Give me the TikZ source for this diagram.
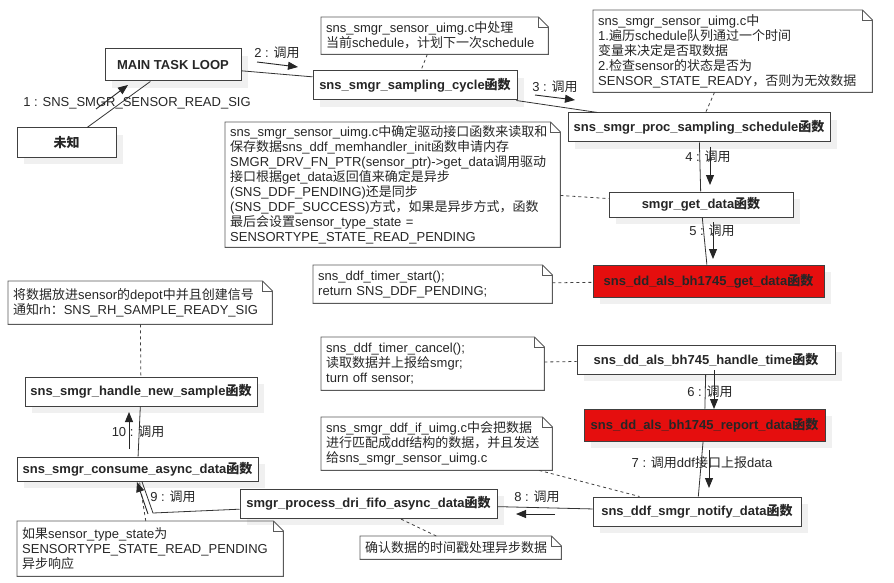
\documentclass[tikz,border=0pt]{standalone}
\usepackage{fontspec}
\setmainfont{Liberation Sans}
\newfontfamily\cjk{Noto Sans CJK SC}
\newXeTeXintercharclass\CJKclass
\count255="4E00
\loop
  \XeTeXcharclass\count255=\CJKclass
  \ifnum\count255<"9FFF \advance\count255 by 1 \repeat
\XeTeXcharclass"FF0C=\CJKclass
\XeTeXcharclass"FF1A=\CJKclass
\XeTeXcharclass"3001=\CJKclass
\XeTeXcharclass"3002=\CJKclass
\XeTeXinterchartoks 0 \CJKclass = {\begingroup\cjk}
\XeTeXinterchartoks 4095 \CJKclass = {\begingroup\cjk}
\XeTeXinterchartoks \CJKclass 0 = {\endgroup}
\XeTeXinterchartoks \CJKclass 4095 = {\endgroup}
\XeTeXinterchartokenstate=1
\usetikzlibrary{arrows.meta,shadows}
\colorlet{boxLine}{black!75}
\colorlet{noteLine}{black!65}
\colorlet{textGray}{black!85}
\colorlet{shadowGray}{black!6}
\definecolor{alertRed}{RGB}{229,14,14}
\newcommand\diagFont{\fontsize{13}{15}\selectfont}
\NewDocumentCommand\DrawNote{mmmmm}%
{%
\node[note,text width=#3pt,minimum height=#4pt] (#1) at (#2) {#5};%
\draw[noteEdge] (#1.north west) -- ([xshift=-10pt]#1.north east) -- ([yshift=-10pt]#1.north east) -- (#1.south east) -- (#1.south west) -- cycle;%
\draw[noteEdge] ([xshift=-10pt]#1.north east) |- ([yshift=-10pt]#1.north east);%
}
\NewDocumentCommand\DrawMsg{mmmmm}%
{%
\coordinate (#1-tail) at (#2);%
\coordinate (#1-tip) at (#3);%
\draw[msg] (#1-tail) -- (#1-tip);%
\node[msgLabel] (#1-text) at (#4) {#5};%
}
\begin{document}
\begin{tikzpicture}[x=1pt,y=-1pt,font=\diagFont,text=textGray,
  box/.style={draw=boxLine,line width=1pt,fill=white,font=\diagFont\bfseries,inner sep=0pt,
    drop shadow={shadow xshift=7pt,shadow yshift=-7pt,fill=shadowGray,opacity=1}},
  hot/.style={box,fill=alertRed},
  note/.style={anchor=north west,align=left,inner xsep=5pt,inner ysep=2pt},
  noteEdge/.style={draw=noteLine,line width=0.9pt},
  link/.style={draw=black!80,line width=0.8pt},
  noteLink/.style={draw=black!75,line width=0.8pt,dash pattern=on 3pt off 3pt},
  msg/.style={draw=black!85,line width=0.9pt,-{Triangle[length=10pt,width=8pt]}},
  msgLabel/.style={inner sep=0pt}]
\useasboundingbox (0,0) rectangle (894,583);

\node[box,minimum width=99pt,minimum height=29pt] (unknown) at (66.5,142.5) {未知};
\node[box,minimum width=136pt,minimum height=32pt] (mainloop) at (173,65) {MAIN TASK LOOP};
\node[box,minimum width=204pt,minimum height=29pt] (samplingcycle) at (415,85.5) {sns\_smgr\_sampling\_cycle函数};
\node[box,minimum width=262pt,minimum height=29pt] (procsched) at (699,127.5) {sns\_smgr\_proc\_sampling\_schedule函数};
\node[box,minimum width=184pt,minimum height=25pt] (getdata) at (701,204.5) {smgr\_get\_data函数};
\node[hot,minimum width=231pt,minimum height=32pt] (bhgetdata) at (708.5,281) {sns\_dd\_als\_bh1745\_get\_data函数};
\node[box,minimum width=258pt,minimum height=29pt] (handletime) at (706,359.5) {sns\_dd\_als\_bh745\_handle\_time函数};
\node[hot,minimum width=241pt,minimum height=32pt] (reportdata) at (704.5,425) {sns\_dd\_als\_bh1745\_report\_data函数};
\node[box,minimum width=208pt,minimum height=29pt] (notify) at (697,511.5) {sns\_ddf\_smgr\_notify\_data函数};
\node[box,minimum width=257pt,minimum height=29pt] (fifoasync) at (368.5,503.5) {smgr\_process\_dri\_fifo\_async\_data函数};
\node[box,minimum width=241pt,minimum height=24pt] (consume) at (137.5,469) {sns\_smgr\_consume\_async\_data函数};
\node[box,minimum width=232pt,minimum height=29pt] (newsample) at (141,391.5) {sns\_smgr\_handle\_new\_sample函数};

\DrawNote{cyclenote}{321,17}{217}{37}{sns\_smgr\_sensor\_uimg.c中处理\\当前schedule，计划下一次schedule}
\DrawNote{schednote}{593,10}{269}{82}{sns\_smgr\_sensor\_uimg.c中\\1.遍历schedule队列通过一个时间\\变量来决定是否取数据\\2.检查sensor的状态是否为\\SENSOR\_STATE\_READY，否则为无效数据}
\DrawNote{getnote}{225,122}{325}{125}{sns\_smgr\_sensor\_uimg.c中确定驱动接口函数来读取和\\保存数据sns\_ddf\_memhandler\_init函数申请内存\\SMGR\_DRV\_FN\_PTR(sensor\_ptr)->get\_data调用驱动\\接口根据get\_data返回值来确定是异步\\(SNS\_DDF\_PENDING)还是同步\\(SNS\_DDF\_SUCCESS)方式，如果是异步方式，函数\\最后会设置sensor\_type\_state =\\SENSORTYPE\_STATE\_READ\_PENDING}
\DrawNote{startnote}{313,265}{229}{38}{sns\_ddf\_timer\_start();\\return SNS\_DDF\_PENDING;}
\DrawNote{cancelnote}{321,337}{213}{53}{sns\_ddf\_timer\_cancel();\\读取数据并上报给smgr;\\turn off sensor;}
\DrawNote{ifnote}{321,417}{221}{53}{sns\_smgr\_ddf\_if\_uimg.c中会把数据\\进行匹配成ddf结构的数据，并且发送\\给sns\_smgr\_sensor\_uimg.c}
\DrawNote{stampnote}{360,536}{191}{23}{确认数据的时间戳处理异步数据}
\DrawNote{pendnote}{17,521}{256}{55}{如果sensor\_type\_state为\\SENSORTYPE\_STATE\_READ\_PENDING\\异步响应}
\DrawNote{depotnote}{8,281}{254}{43}{将数据放进sensor的depot中并且创建信号\\通知rh：SNS\_RH\_SAMPLE\_READY\_SIG}

\foreach \from/\to in {unknown/mainloop,mainloop/samplingcycle,samplingcycle/procsched,procsched/getdata,getdata/bhgetdata,handletime/reportdata,reportdata/notify,notify/fifoasync,consume/newsample}
  \draw[link] (\from) -- (\to);
\coordinate (bend9) at (153,513);
\draw[link] (fifoasync) -- (bend9) -- (consume);

\foreach \from/\to in {cyclenote/samplingcycle,schednote/procsched,getnote/getdata,startnote/bhgetdata,cancelnote/handletime,ifnote/notify,stampnote/fifoasync,pendnote/consume,depotnote/newsample}
  \draw[noteLink] (\from) -- (\to);

\DrawMsg{m1}{96,109}{128,85}{137,103}{1 : SNS\_SMGR\_SENSOR\_READ\_SIG}
\DrawMsg{m2}{257,62}{298,67}{277,53}{2 : 调用}
\DrawMsg{m3}{535,95}{575,100}{555,87}{3 : 调用}
\DrawMsg{m4}{710,147}{710,185}{708,157}{4 : 调用}
\DrawMsg{m5}{713,222}{713,259}{712,231}{5 : 调用}
\DrawMsg{m6}{714,370}{714,409}{710,392}{6 : 调用}
\DrawMsg{m7}{709,450}{709,488}{702,463}{7 : 调用ddf接口上报data}
\DrawMsg{m8}{555,514}{516,514}{537,497}{8 : 调用}
\DrawMsg{m9}{148,514}{137,482}{173,497}{9 : 调用}
\DrawMsg{m10}{129,449}{129,412}{138,432}{10 : 调用}
\end{tikzpicture}
\end{document}
